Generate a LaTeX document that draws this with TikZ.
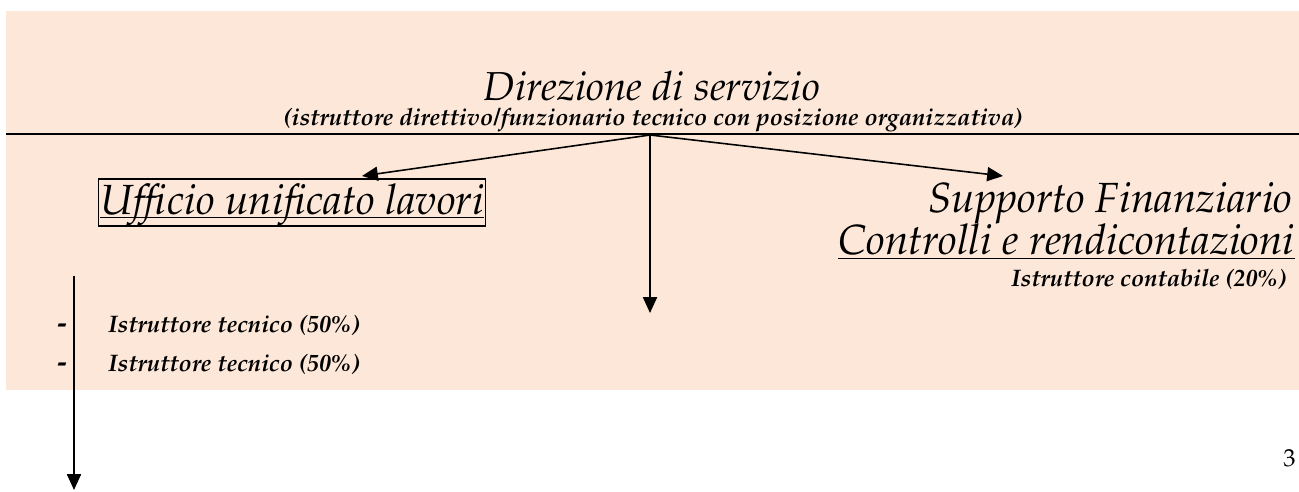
\documentclass[tikz,border=0pt]{standalone}
\usepackage[T1]{fontenc}
\usepackage{palatino}
\usetikzlibrary{arrows.meta}
\definecolor{peach}{RGB}{252,231,217}

\begin{document}
\begin{tikzpicture}[x=0.2mm,y=-0.2mm,
    every node/.style={inner sep=0pt,font=\itshape},
    link/.style={-{Triangle[length=9pt,width=8pt]},line width=0.9pt},
    big/.style={font=\itshape\fontsize{24}{28}\selectfont},
    staff/.style={font=\bfseries\itshape\fontsize{13.6}{16}\selectfont}]
    \useasboundingbox (0,0) rectangle (1299,492);

    % Background band and separator
    \fill[peach] (6,11) rectangle (1299,390);
    \draw[line width=1.2pt] (6,134) -- (1299,134);

    % Head of the service
    \node[anchor=base,font=\itshape\fontsize{23}{27}\selectfont] (dir) at (652,101)
      {Direzione di servizio};
    \node[staff,anchor=base] (dirsub) at (653,126)
      {(istruttore direttivo/funzionario tecnico con posizione organizzativa)};
    \coordinate (hub) at (650,135);

    % Left office
    \node[big,draw,line width=0.8pt,anchor=base west,inner xsep=1pt,inner ysep=2pt,
      text height=18.5pt,text depth=4.3pt] (uff) at (98,215)
      {\underline{\smash{Ufficio unificato lavori}}};
    \node[anchor=base,font=\bfseries\fontsize{16}{18}\selectfont] (d1) at (62,333) {-};
    \node[anchor=base,font=\bfseries\fontsize{16}{18}\selectfont] (d2) at (62,372) {-};
    \node[staff,anchor=base west] (tec1) at (108,333) {Istruttore tecnico (50\%)};
    \node[staff,anchor=base west] (tec2) at (108,372) {Istruttore tecnico (50\%)};

    % Right office
    \node[big,anchor=base east] (supp) at (1293,213) {Supporto Finanziario};
    \node[big,anchor=base east] (ctrl) at (1295,255) {\underline{Controlli e rendicontazioni}};
    \node[staff,anchor=base east] (cont) at (1287,287) {Istruttore contabile (20\%)};

    % Page number
    \node[anchor=base east,font=\fontsize{14}{16}\selectfont] (pg) at (1296,467) {3};

    % Arrows from the head
    \coordinate (uffin) at (362,176);
    \coordinate (suppin) at (1003,176);
    \coordinate (midend) at (650,313);
    \draw[link] (hub) -- (uffin);
    \draw[link] (hub) -- (suppin);
    \draw[link] (hub) -- (midend);

    % Left vertical arrow
    \coordinate (ltop) at (74,276);
    \coordinate (lend) at (74,490);
    \draw[link] (ltop) -- (lend);
\end{tikzpicture}
\end{document}
